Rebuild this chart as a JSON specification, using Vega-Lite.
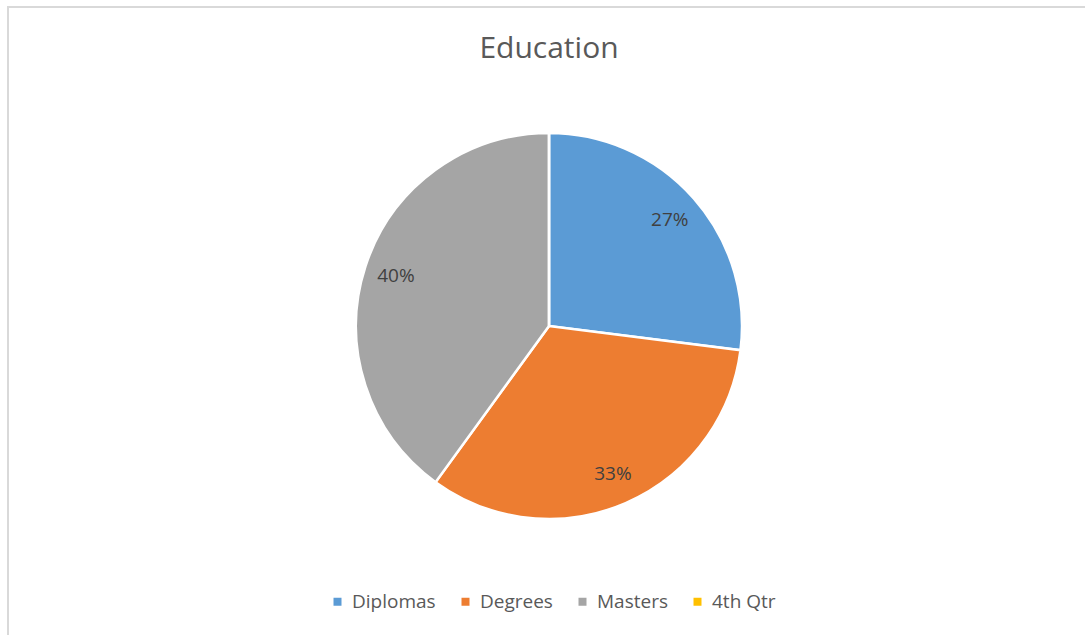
{
  "$schema": "https://vega.github.io/schema/vega-lite/v6.json",
  "autosize": "none",
  "padding": {"left": 8, "top": 7, "right": 0, "bottom": 0},
  "width": 1082,
  "height": 638,
  "background": "white",
  "view": {"stroke": "#d9d9d9", "strokeWidth": 2},
  "title": {
    "text": "Education",
    "anchor": "middle",
    "orient": "top",
    "offset": -81,
    "baseline": "alphabetic",
    "font": "Open Sans",
    "fontSize": 30,
    "fontWeight": "normal",
    "color": "#595959"
  },
  "data": {
    "values": [
      {"category": "Diplomas", "share": 0.27},
      {"category": "Degrees", "share": 0.33},
      {"category": "Masters", "share": 0.40},
      {"category": "4th Qtr", "share": 0}
    ]
  },
  "encoding": {
    "theta": {"field": "share", "type": "quantitative", "stack": true},
    "order": {"field": "idx", "type": "quantitative"}
  },
  "transform": [
    {"window": [{"op": "row_number", "as": "idx"}]}
  ],
  "layer": [
    {
      "mark": {"type": "arc", "outerRadius": 193, "stroke": "white", "strokeWidth": 2.5},
      "encoding": {
        "color": {
          "field": "category",
          "type": "nominal",
          "sort": ["Diplomas", "Degrees", "Masters", "4th Qtr"],
          "scale": {
            "domain": ["Diplomas", "Degrees", "Masters", "4th Qtr"],
            "range": ["#5B9BD5", "#ED7D31", "#A5A5A5", "#FFC000"]
          },
          "legend": {
            "title": null,
            "orient": "none",
            "direction": "horizontal",
            "legendX": 320,
            "legendY": 585,
            "symbolType": "square",
            "symbolSize": 64,
            "symbolStrokeWidth": 0,
            "labelFont": "Open Sans",
            "labelFontSize": 19,
            "labelColor": "#595959",
            "labelOffset": 5,
            "columnPadding": 20,
            "labelLimit": 200
          }
        }
      }
    },
    {
      "transform": [{"filter": "datum.share > 0"}],
      "mark": {"type": "text", "radius": 161, "font": "Open Sans", "fontSize": 19, "color": "#404040"},
      "encoding": {
        "text": {"field": "share", "type": "quantitative", "format": ".0%"}
      }
    }
  ]
}
